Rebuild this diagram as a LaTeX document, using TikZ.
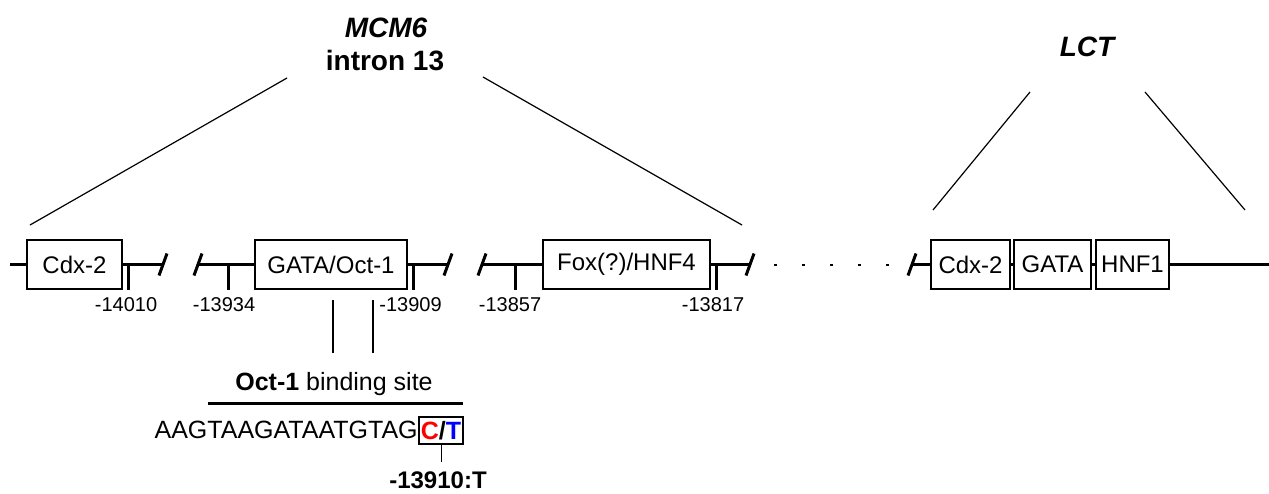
\documentclass[tikz,border=0pt]{standalone}
\usepackage{fontspec}
\setmainfont{Liberation Sans}
\usepackage{xcolor}
\usepackage{tikz}
\usetikzlibrary{positioning}

\begin{document}
\begin{tikzpicture}[
            x=0.5pt, y=-0.5pt,
            site/.style={rectangle, draw, line width=1.4pt, fill=white, minimum height=24.5pt, inner sep=0pt, font=\fontsize{12}{14}\selectfont},
            dna/.style={line width=1.4pt},
            tickmark/.style={line width=1.5pt},
            brk/.style={line width=1.5pt},
            zoomline/.style={line width=0.6pt},
            poslabel/.style={inner sep=0pt, font=\fontsize{10}{12}\selectfont},
            genename/.style={inner sep=0pt, anchor=base, font=\fontsize{14}{16}\selectfont\bfseries}
        ]
            \useasboundingbox (0,0) rectangle (1269,493);

            \node[site, minimum width=47.5pt] (cdxa)  at (74.5,264.5)  {Cdx-2};
            \node[site, minimum width=76pt]   (gata)  at (331,264.5)   {GATA/Oct-1};
            \node[site, minimum width=83.5pt] (fox)   at (626.5,264.5) {Fox(?)/HNF4};
            \node[site, minimum width=39.5pt] (cdxb)  at (970.5,264.5) {Cdx-2};
            \node[site, minimum width=38.5pt] (gatab) at (1052.5,264.5) {GATA};
            \node[site, minimum width=36.5pt] (hnf)   at (1132.5,264.5) {HNF1};

            \coordinate (start) at (10,264.5);
            \coordinate (end)   at (1269,264.5);
            \coordinate (s1) at (163,264.5);
            \coordinate (s2) at (198,264.5);
            \coordinate (s3) at (448,264.5);
            \coordinate (s4) at (482,264.5);
            \coordinate (s5) at (750,264.5);
            \coordinate (s6) at (912,264.5);
            \coordinate (t1) at (128,264.5);
            \coordinate (t2) at (228,264.5);
            \coordinate (t3) at (413,264.5);
            \coordinate (t4) at (515,264.5);
            \coordinate (t5) at (716,264.5);

            \draw[dna] (start) -- (cdxa.west);
            \draw[dna] (cdxa.east) -- (s1);
            \draw[dna] (s2) -- (gata.west);
            \draw[dna] (gata.east) -- (s3);
            \draw[dna] (s4) -- (fox.west);
            \draw[dna] (fox.east) -- (s5);
            \draw[line width=1pt, dash pattern=on 1.5pt off 12.5pt, dash phase=2pt] (s5) -- (s6);
            \draw[dna] (s6) -- (cdxb.west);
            \draw[dna] (cdxb.east) -- (gatab.west);
            \draw[dna] (gatab.east) -- (hnf.west);
            \draw[dna] (hnf.east) -- (end);

            \draw[brk] ([shift={(-4,11)}]s1) -- ([shift={(4,-11)}]s1);
            \draw[brk] ([shift={(-4,11)}]s2) -- ([shift={(4,-11)}]s2);
            \draw[brk] ([shift={(-4,11)}]s3) -- ([shift={(4,-11)}]s3);
            \draw[brk] ([shift={(-4,11)}]s4) -- ([shift={(4,-11)}]s4);
            \draw[brk] ([shift={(-4,11)}]s5) -- ([shift={(4,-11)}]s5);
            \draw[brk] ([shift={(-4,11)}]s6) -- ([shift={(4,-11)}]s6);

            \draw[tickmark] (t1) -- ++(0,25.5);
            \draw[tickmark] (t2) -- ++(0,25.5);
            \draw[tickmark] (t3) -- ++(0,25.5);
            \draw[tickmark] (t4) -- ++(0,25.5);
            \draw[tickmark] (t5) -- ++(0,25.5);

            \node[poslabel] (p14010) at (126,305) {-14010};
            \node[poslabel] (p13934) at (224,305) {-13934};
            \node[poslabel, anchor=west] (p13909) at (379,305) {-13909};
            \node[poslabel] (p13857) at (510,305) {-13857};
            \node[poslabel] (p13817) at (713,305) {-13817};

            \node[genename] (mcm6)   at (386,37) {\itshape MCM6};
            \node[genename] (intron) at (385,70) {intron 13};
            \node[genename] (lct)    at (1087,56) {\itshape LCT};

            \coordinate (za) at (287,78);
            \coordinate (zb) at (30,225);
            \coordinate (zc) at (483,77);
            \coordinate (zd) at (742,225);
            \coordinate (ze) at (1030,92);
            \coordinate (zf) at (933,210);
            \coordinate (zg) at (1145,92);
            \coordinate (zh) at (1245,210);
            \draw[zoomline] (za) -- (zb);
            \draw[zoomline] (zc) -- (zd);
            \draw[zoomline] (ze) -- (zf);
            \draw[zoomline] (zg) -- (zh);

            \coordinate (oa) at (333,300);
            \coordinate (ob) at (333,353);
            \coordinate (oc) at (373,300);
            \coordinate (od) at (373,353);
            \draw[line width=0.7pt] (oa) -- (ob);
            \draw[line width=0.7pt] (oc) -- (od);

            \node[inner sep=0pt, anchor=base, font=\fontsize{12.5}{14}\selectfont] (octsite) at (334,390) {\textbf{Oct-1} binding site};
            \coordinate (bara) at (208,403);
            \coordinate (barb) at (463,403);
            \draw[line width=1.5pt] (bara) -- (barb);

            \node[inner sep=0pt, anchor=base east, font=\fontsize{12.5}{14}\selectfont] (seq) at (418,438) {AAGTAAGATAATGTAG};
            \node[draw, line width=0.6pt, inner sep=0pt, minimum width=22pt, minimum height=13.5pt, text height=8.6pt, text depth=0pt, font=\fontsize{12.5}{14}\selectfont\bfseries] (snp) at (441,430.5) {\textcolor{red}{C}/\textcolor{blue}{T}};
            \coordinate (snpend) at (441,462);
            \draw[line width=0.5pt] (snp.south) -- (snpend);
            \node[inner sep=0pt, font=\fontsize{12}{14}\selectfont\bfseries] (snppos) at (438,480) {-13910:T};
        \end{tikzpicture}
\end{document}
